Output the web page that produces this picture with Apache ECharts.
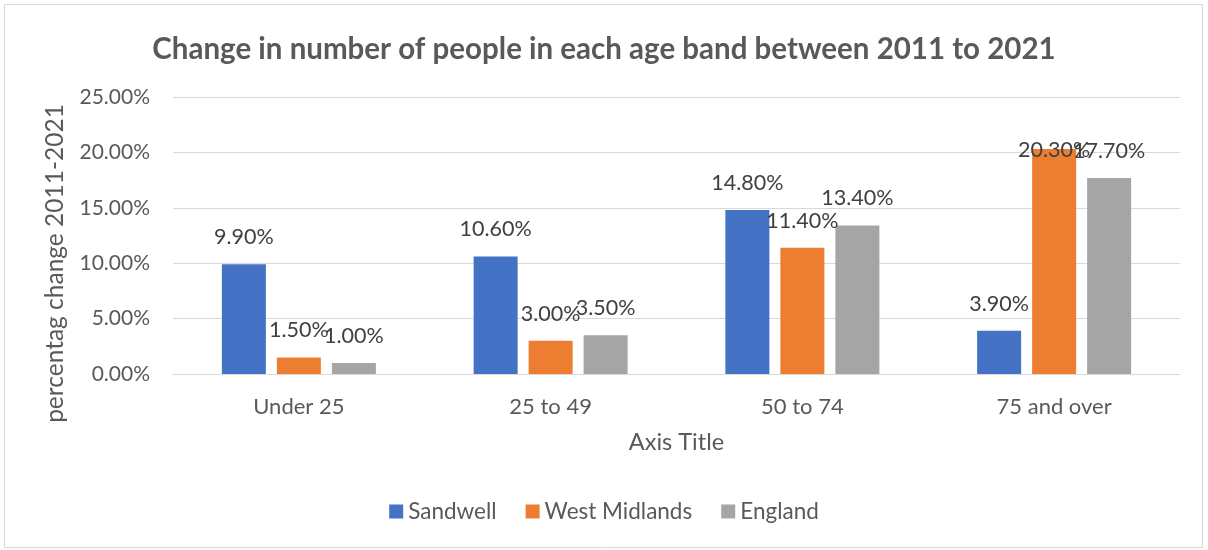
<!DOCTYPE html>
<html><head><meta charset="utf-8">
<script src="https://cdn.jsdelivr.net/npm/echarts@6/dist/echarts.min.js"></script>
<style>html,body{margin:0;padding:0;background:#fff}#c{width:1208px;height:550px}</style>
</head><body><div id="c"></div>
<script>
const categories = ['Under 25', '25 to 49', '50 to 74', '75 and over'];
const sandwell = [9.9, 10.6, 14.8, 3.9];
const westMidlands = [1.5, 3.0, 11.4, 20.3];
const england = [1.0, 3.5, 13.4, 17.7];
const seriesNames = ['Sandwell', 'West Midlands', 'England'];
const colors = ['#4472C4', '#ED7D31', '#A5A5A5'];
const yTicks = [0, 5, 10, 15, 20, 25];

const FONT = 'Lato, "Open Sans", sans-serif';
const chart = echarts.init(document.getElementById('c'));
function mkSeries(name, vals, color) {
  return {
    name, type: 'bar', barWidth: 44, barGap: '25%',
    itemStyle: { color },
    data: vals.map(v => v > 20 ? { value: v, label: { offset: [0, 28] } } : v),
    label: {
      show: true, position: 'top', distance: 16,
      formatter: p => p.value.toFixed(2) + '%',
      color: '#404040', fontSize: 21.5, fontFamily: FONT
    }
  };
}
chart.setOption({
  animation: false,
  backgroundColor: '#fff',
  graphic: [{ type: 'rect', shape: { x: 4.5, y: 4.5, width: 1198, height: 543 }, style: { fill: 'none', stroke: '#d9d9d9', lineWidth: 1 }, silent: true }],
  title: {
    text: 'Change in number of people in each age band between 2011 to 2021',
    left: 'center', top: 29,
    textStyle: { color: '#595959', fontSize: 29.5, fontWeight: 'bold', fontFamily: FONT }
  },
  grid: { left: 173, right: 28, top: 97, bottom: 176 },
  legend: {
    data: seriesNames, bottom: 22, left: 'center', itemWidth: 14, itemHeight: 14, itemGap: 29,
    icon: 'rect',
    textStyle: { color: '#595959', fontSize: 22.5, fontFamily: FONT }
  },
  xAxis: {
    type: 'category', data: categories,
    name: 'Axis Title', nameLocation: 'middle', nameGap: 56,
    nameTextStyle: { color: '#595959', fontSize: 23.5, fontFamily: FONT },
    axisLine: { lineStyle: { color: '#d9d9d9' } },
    axisTick: { show: false },
    axisLabel: { color: '#595959', fontSize: 22, fontFamily: FONT, margin: 22 }
  },
  yAxis: {
    type: 'value', min: yTicks[0], max: yTicks[yTicks.length - 1], interval: 5,
    name: 'percentag change 2011-2021', nameLocation: 'middle', nameGap: 105, nameRotate: 90,
    nameTextStyle: { color: '#595959', fontSize: 24.5, fontFamily: FONT, padding: [0, 56, 0, 0] },
    axisLine: { show: false }, axisTick: { show: false },
    splitLine: { lineStyle: { color: '#d9d9d9', width: 1 } },
    axisLabel: { color: '#595959', fontSize: 21, fontFamily: FONT, margin: 23, formatter: v => v.toFixed(2) + '%' }
  },
  series: [
    mkSeries(seriesNames[0], sandwell, colors[0]),
    mkSeries(seriesNames[1], westMidlands, colors[1]),
    mkSeries(seriesNames[2], england, colors[2])
  ]
});
</script></body></html>
